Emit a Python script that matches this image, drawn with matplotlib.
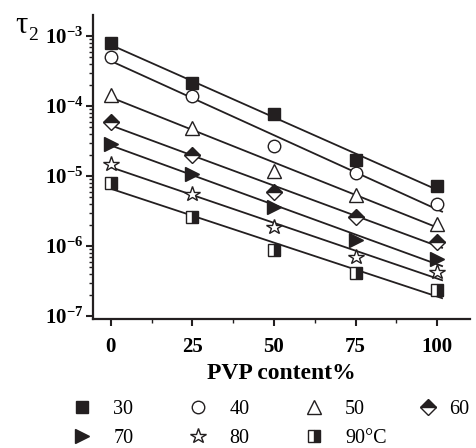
import numpy as np
import matplotlib
matplotlib.use("Agg")
import matplotlib.pyplot as plt
from matplotlib.lines import Line2D
from matplotlib.ticker import LogLocator, NullFormatter, FixedLocator

plt.rcParams['font.family'] = ['Liberation Serif', 'DejaVu Serif']
plt.rcParams['mathtext.fontset'] = 'custom'
plt.rcParams['mathtext.rm'] = 'Liberation Serif'
plt.rcParams['mathtext.bf'] = 'Liberation Serif:bold'
plt.rcParams['mathtext.it'] = 'Liberation Serif:italic'

# relaxation time tau_2 vs PVP content, one series per temperature
pvp = [0, 25, 50, 75, 100]
labels = ["30", "40", "50", "60", "70", "80", "90\u00b0C"]
tau_30 = [7.9e-4, 2.1e-4, 7.7e-5, 1.7e-5, 7.2e-6]
tau_40 = [5.0e-4, 1.4e-4, 2.7e-5, 1.1e-5, 4.0e-6]
tau_50 = [1.45e-4, 4.9e-5, 1.2e-5, 5.3e-6, 2.1e-6]
tau_60 = [5.9e-5, 2.0e-5, 5.9e-6, 2.6e-6, 1.15e-6]
tau_70 = [2.9e-5, 1.07e-5, 3.6e-6, 1.22e-6, 6.5e-7]
tau_80 = [1.48e-5, 5.5e-6, 1.9e-6, 6.9e-7, 4.3e-7]
tau_90 = [8.0e-6, 2.6e-6, 8.7e-7, 4.1e-7, 2.4e-7]
series = [tau_30, tau_40, tau_50, tau_60, tau_70, tau_80, tau_90]

ink = "#231f20"
styles = [
    dict(marker='s', ms=8.5, mfc=ink, fillstyle='full'),
    dict(marker='o', ms=9, mfc='white', fillstyle='full'),
    dict(marker='^', ms=10, mfc='white', fillstyle='full'),
    dict(marker='D', ms=8.5, mfc=ink, mfcalt='white', fillstyle='top'),
    dict(marker='>', ms=10, mfc=ink, fillstyle='full'),
    dict(marker='*', ms=11.5, mfc='white', fillstyle='full'),
    dict(marker='s', ms=8.5, mfc=ink, mfcalt='white', fillstyle='right'),
]

fig = plt.figure(figsize=(4.76, 4.48), dpi=100)
ax = fig.add_axes([0.195, 0.288, 0.792, 0.6785])

x = np.array(pvp, dtype=float)
handles = []
for vals, st, lab in zip(series, styles, labels):
    # straight-line fit in log space
    k, b = np.polyfit(x, np.log10(vals), 1)
    xf = np.array([0, 101.5])
    ax.plot(xf, 10 ** (k * xf + b), color=ink, lw=1.3, zorder=2)
    ax.plot(pvp, vals, linestyle='none', color=ink, mec=ink, mew=1.0, zorder=3, **st)
    handles.append(Line2D([], [], linestyle='none', color=ink, mec=ink, mew=1.0, **st))

ax.set_yscale('log')
ax.set_xlim(-5.5, 110)
ax.set_ylim(10 ** -7.04, 10 ** -2.7)

ax.set_xticks(pvp)
ax.set_xticklabels([str(p) for p in pvp], fontsize=15, fontweight='bold')
ax.xaxis.set_minor_locator(FixedLocator([12.5, 37.5, 62.5, 87.5]))
exps = [-3, -4, -5, -6, -7]
ax.set_yticks([10.0 ** e for e in exps])
ax.set_yticklabels([r'$\mathbf{10^{%d}}$' % e for e in exps], fontsize=15)
ax.yaxis.set_minor_locator(LogLocator(base=10, subs=np.arange(2, 10)))
ax.yaxis.set_minor_formatter(NullFormatter())

for s in ['top', 'right']:
    ax.spines[s].set_visible(False)
for s in ['left', 'bottom']:
    ax.spines[s].set_linewidth(1.6)
    ax.spines[s].set_color(ink)
ax.tick_params(which='major', direction='out', length=5, width=1.5, color=ink)
ax.tick_params(axis='x', which='major', pad=8)
ax.tick_params(axis='y', which='major', pad=2)
ax.tick_params(which='minor', direction='out', length=3, width=1.0, color=ink)

ax.set_xlabel('PVP content%', fontsize=17, fontweight='bold', labelpad=4)

fig.text(0.032, 0.926, '\u03c4', fontsize=22, ha='left', va='baseline')
fig.text(0.059, 0.911, '2', fontsize=14, ha='left', va='baseline')

# legend: first three columns in one block, the "60" entry on its own
leg_kw = dict(frameon=False, fontsize=14.5, loc='upper left',
              handlelength=1.4, labelspacing=0.5, borderaxespad=0)
order = [0, 4, 1, 5, 2, 6]
leg = ax.legend([handles[i] for i in order], [labels[i] for i in order],
                ncol=3, columnspacing=2.5, handletextpad=0.85,
                bbox_to_anchor=(-0.087, -0.24), **leg_kw)
ax.add_artist(leg)
ax.legend([handles[3]], [labels[3]], handletextpad=0.35,
          bbox_to_anchor=(0.83, -0.24), **leg_kw)

fig.savefig('out.png', dpi=100)
